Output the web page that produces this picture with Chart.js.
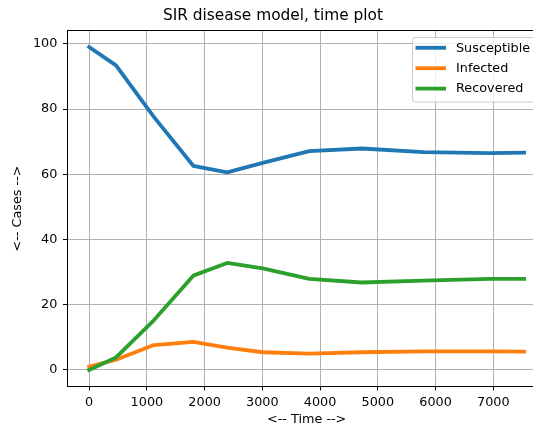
<!DOCTYPE html>
<html>
<head>
<meta charset="utf-8">
<title>SIR disease model, time plot</title>
<script src="https://cdn.jsdelivr.net/npm/chart.js@4.4.0/dist/chart.umd.min.js"></script>
<style>
    html, body { margin: 0; padding: 0; background: #fff; overflow: hidden; }
    #wrap { width: 613px; height: 428px; }
</style>
</head>
<body>
<div id="wrap"><canvas id="sirChart"></canvas></div>
<script>
// Solver time steps and values
const times = [0, 465, 1120, 1803, 2390, 3005, 3813, 4721, 5790, 6950, 7534];
const susceptible = [99.0, 93.4, 77.6, 62.6, 60.6, 63.5, 67.1, 67.9, 66.8, 66.5, 66.6];
const infected = [1.0, 3.1, 7.6, 8.6, 6.8, 5.4, 5.0, 5.4, 5.7, 5.7, 5.6];
const recovered = [0.0, 3.8, 15.2, 28.9, 32.8, 31.1, 27.9, 26.8, 27.4, 27.9, 27.9];

const xTickValues = [0, 1000, 2000, 3000, 4000, 5000, 6000, 7000];
const yTickValues = [0, 20, 40, 60, 80, 100];

const seriesNames = ['Susceptible', 'Infected', 'Recovered'];
const seriesColors = ['#1f77b4', '#ff7f0e', '#2ca02c'];

const FONT = 'DejaVu Sans';

// Build {x, y} points from the arrays
function toPoints(values) {
    return times.map((t, i) => ({ x: t, y: values[i] }));
}

// Top spine (matplotlib box)
const spinePlugin = {
    id: 'spines',
    afterDatasetsDraw(chart) {
        const { ctx, chartArea } = chart;
        ctx.save();
        ctx.strokeStyle = '#000';
        ctx.lineWidth = 1;
        ctx.beginPath();
        ctx.moveTo(chartArea.left, Math.round(chartArea.top) - 0.5);
        ctx.lineTo(chartArea.right, Math.round(chartArea.top) - 0.5);
        ctx.stroke();
        ctx.restore();
    }
};

// Legend box in upper right, inside the axes
const legendBoxPlugin = {
    id: 'legendBox',
    afterDraw(chart) {
        const { ctx } = chart;
        const x = 412.5, y = 37.5, w = 150, h = 64.5, r = 3;
        ctx.save();
        ctx.fillStyle = 'rgba(255,255,255,0.8)';
        ctx.strokeStyle = '#cccccc';
        ctx.lineWidth = 1;
        ctx.beginPath();
        ctx.roundRect(x, y, w, h, r);
        ctx.fill();
        ctx.stroke();
        ctx.font = '12.8px "' + FONT + '"';
        ctx.textBaseline = 'middle';
        ctx.fillStyle = '#000';
        chart.data.datasets.forEach((ds, i) => {
            const ly = 47.8 + i * 20.4;
            ctx.strokeStyle = ds.borderColor;
            ctx.lineWidth = 3.8;
            ctx.beginPath();
            ctx.moveTo(415.5, ly);
            ctx.lineTo(446, ly);
            ctx.stroke();
            ctx.fillText(ds.label, 456, ly + 0.5);
        });
        ctx.restore();
    }
};

const ctx = document.getElementById('sirChart');

new Chart(ctx, {
    type: 'line',
    data: {
        datasets: [susceptible, infected, recovered].map((vals, i) => ({
            label: seriesNames[i],
            data: toPoints(vals),
            borderColor: seriesColors[i],
            backgroundColor: seriesColors[i],
            borderWidth: 3.8,
            borderCapStyle: 'square',
            borderJoinStyle: 'round',
            pointRadius: 0,
            tension: 0,
            fill: false,
            order: 2 - i
        }))
    },
    options: {
        responsive: true,
        maintainAspectRatio: false,
        animation: false,
        layout: {
            padding: { left: 0, right: 67.1, top: 0, bottom: 0 }
        },
        plugins: {
            legend: { display: false },
            tooltip: { enabled: false },
            title: {
                display: true,
                text: 'SIR disease model, time plot',
                color: '#000',
                font: { family: FONT, size: 15.4, weight: 'normal' },
                padding: { top: 6.8, bottom: 5.7 }
            }
        },
        scales: {
            x: {
                type: 'linear',
                min: -377,
                max: 7911,
                afterFit(scale) { scale.height = 42; },
                afterBuildTicks(scale) {
                    scale.ticks = xTickValues.map(v => ({ value: v }));
                },
                border: { display: true, color: '#000', width: 1 },
                grid: {
                    color: '#b0b0b0',
                    lineWidth: 1,
                    drawTicks: true,
                    tickLength: 4.4,
                    tickColor: '#000'
                },
                ticks: {
                    maxRotation: 0,
                    autoSkip: false,
                    padding: 4.6,
                    color: '#000',
                    font: { family: FONT, size: 12.8 },
                    callback: v => String(v)
                },
                title: {
                    display: true,
                    text: '<-- Time -->',
                    color: '#000',
                    font: { family: FONT, size: 12.8 },
                    padding: { top: 0, bottom: 1 }
                }
            },
            y: {
                type: 'linear',
                min: -4.95,
                max: 103.95,
                afterFit(scale) { scale.width = 67.4; },
                afterBuildTicks(scale) {
                    scale.ticks = yTickValues.map(v => ({ value: v }));
                },
                border: { display: true, color: '#000', width: 1 },
                grid: {
                    color: '#b0b0b0',
                    lineWidth: 1,
                    drawTicks: true,
                    tickLength: 4.4,
                    tickColor: '#000'
                },
                ticks: {
                    autoSkip: false,
                    padding: 5.6,
                    color: '#000',
                    font: { family: FONT, size: 12.8 },
                    callback: v => String(v)
                },
                title: {
                    display: true,
                    text: '<-- Cases -->',
                    color: '#000',
                    font: { family: FONT, size: 12.8 },
                    padding: { top: 10.3, bottom: 0 }
                }
            }
        }
    },
    plugins: [spinePlugin, legendBoxPlugin]
});
</script>
</body>
</html>
